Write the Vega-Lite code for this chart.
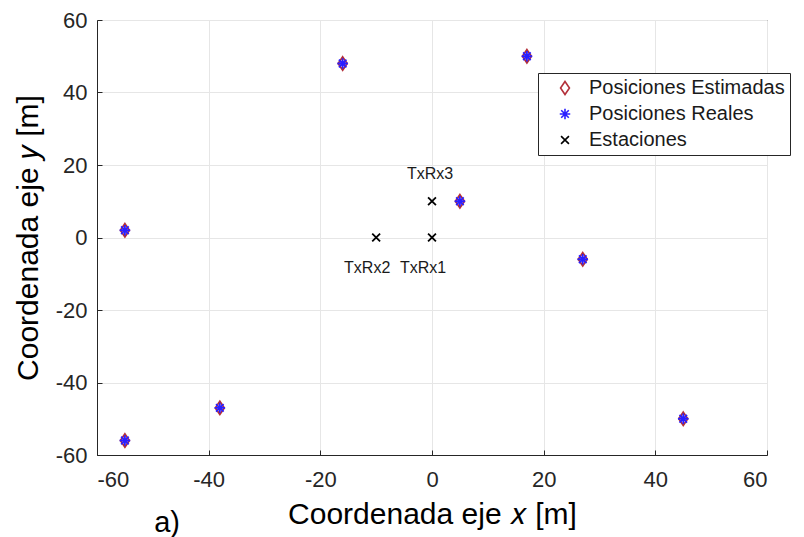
{
  "$schema": "https://vega.github.io/schema/vega-lite/v6.json",
  "width": 670,
  "height": 435,
  "autosize": {"type": "none"},
  "padding": {"left": 97, "top": 20, "right": 37, "bottom": 82},
  "background": "white",
  "title": {
    "text": "a)",
    "orient": "bottom",
    "anchor": "start",
    "dx": 141,
    "offset": -20,
    "baseline": "top",
    "fontSize": 29,
    "fontWeight": "normal",
    "font": "Liberation Sans",
    "color": "black"
  },
  "config": {
    "font": "Liberation Sans",
    "view": {"stroke": "#262626", "strokeWidth": 1},
    "axis": {
      "grid": true,
      "gridColor": "#e6e6e6",
      "gridWidth": 1,
      "domainColor": "#262626",
      "tickColor": "#262626",
      "tickSize": -5,
      "labelFontSize": 22,
      "labelColor": "#262626",
      "labelExpr": "datum.value + ''",
      "titleFontSize": 30,
      "titleFontWeight": "normal",
      "titleColor": "black"
    },
    "legend": {
      "orient": "none",
      "legendX": 441,
      "legendY": 53,
      "strokeColor": "#262626",
      "fillColor": "white",
      "padding": 5,
      "labelFontSize": 20,
      "labelColor": "#1a1a1a",
      "labelLimit": 400,
      "labelOffset": 14,
      "symbolOffset": 12,
      "rowPadding": 6,
      "symbolSize": 110,
      "symbolStrokeWidth": 1.6
    }
  },
  "datasets": {
    "puntos": [
      {"x": -55, "y": 2, "serie": "Posiciones Estimadas"},
      {"x": -55, "y": -56, "serie": "Posiciones Estimadas"},
      {"x": -38, "y": -47, "serie": "Posiciones Estimadas"},
      {"x": -16, "y": 48, "serie": "Posiciones Estimadas"},
      {"x": 17, "y": 50, "serie": "Posiciones Estimadas"},
      {"x": 5, "y": 10, "serie": "Posiciones Estimadas"},
      {"x": 27, "y": -6, "serie": "Posiciones Estimadas"},
      {"x": 45, "y": -50, "serie": "Posiciones Estimadas"},
      {"x": -55, "y": 2, "serie": "Posiciones Reales"},
      {"x": -55, "y": -56, "serie": "Posiciones Reales"},
      {"x": -38, "y": -47, "serie": "Posiciones Reales"},
      {"x": -16, "y": 48, "serie": "Posiciones Reales"},
      {"x": 17, "y": 50, "serie": "Posiciones Reales"},
      {"x": 5, "y": 10, "serie": "Posiciones Reales"},
      {"x": 27, "y": -6, "serie": "Posiciones Reales"},
      {"x": 45, "y": -50, "serie": "Posiciones Reales"},
      {"x": 0, "y": 0, "serie": "Estaciones", "nombre": "TxRx1"},
      {"x": -10, "y": 0, "serie": "Estaciones", "nombre": "TxRx2"},
      {"x": 0, "y": 10, "serie": "Estaciones", "nombre": "TxRx3"}
    ]
  },
  "data": {"name": "puntos"},
  "encoding": {
    "x": {
      "field": "x",
      "type": "quantitative",
      "scale": {"domain": [-60, 60], "nice": false, "zero": false},
      "axis": {"values": [-60, -40, -20, 0, 20, 40, 60], "title": "Coordenada eje 𝑥 [m]", "labelPadding": 19, "titlePadding": 9}
    },
    "y": {
      "field": "y",
      "type": "quantitative",
      "scale": {"domain": [-60, 60], "nice": false, "zero": false},
      "axis": {"values": [-60, -40, -20, 0, 20, 40, 60], "title": "Coordenada eje 𝑦 [m]", "labelPadding": 15, "titlePadding": 12}
    }
  },
  "layer": [
    {
      "mark": {"type": "point", "filled": false, "strokeWidth": 1.8, "opacity": 1},
      "encoding": {
        "shape": {
          "field": "serie",
          "type": "nominal",
          "scale": {
            "domain": ["Posiciones Estimadas", "Posiciones Reales", "Estaciones"],
            "range": [
              "M0,-1.25L0.85,0L0,1.25L-0.85,0Z",
              "M0,-1L0,1M-1,0L1,0M-0.72,-0.72L0.72,0.72M-0.72,0.72L0.72,-0.72",
              "M-0.75,-0.75L0.75,0.75M-0.75,0.75L0.75,-0.75"
            ]
          },
          "legend": {"title": null}
        },
        "stroke": {
          "field": "serie",
          "type": "nominal",
          "scale": {
            "domain": ["Posiciones Estimadas", "Posiciones Reales", "Estaciones"],
            "range": ["#b3303a", "#2a1fff", "#000000"]
          },
          "legend": {"title": null}
        },
        "size": {"value": 110}
      }
    },
    {
      "transform": [{"filter": "datum.nombre === 'TxRx3'"}],
      "mark": {"type": "text", "dy": -27, "dx": -2, "fontSize": 16, "color": "#1a1a1a"},
      "encoding": {"text": {"field": "nombre"}}
    },
    {
      "transform": [{"filter": "datum.nombre === 'TxRx1' || datum.nombre === 'TxRx2'"}],
      "mark": {"type": "text", "dy": 30, "dx": -9, "fontSize": 16, "color": "#1a1a1a"},
      "encoding": {"text": {"field": "nombre"}}
    }
  ]
}
